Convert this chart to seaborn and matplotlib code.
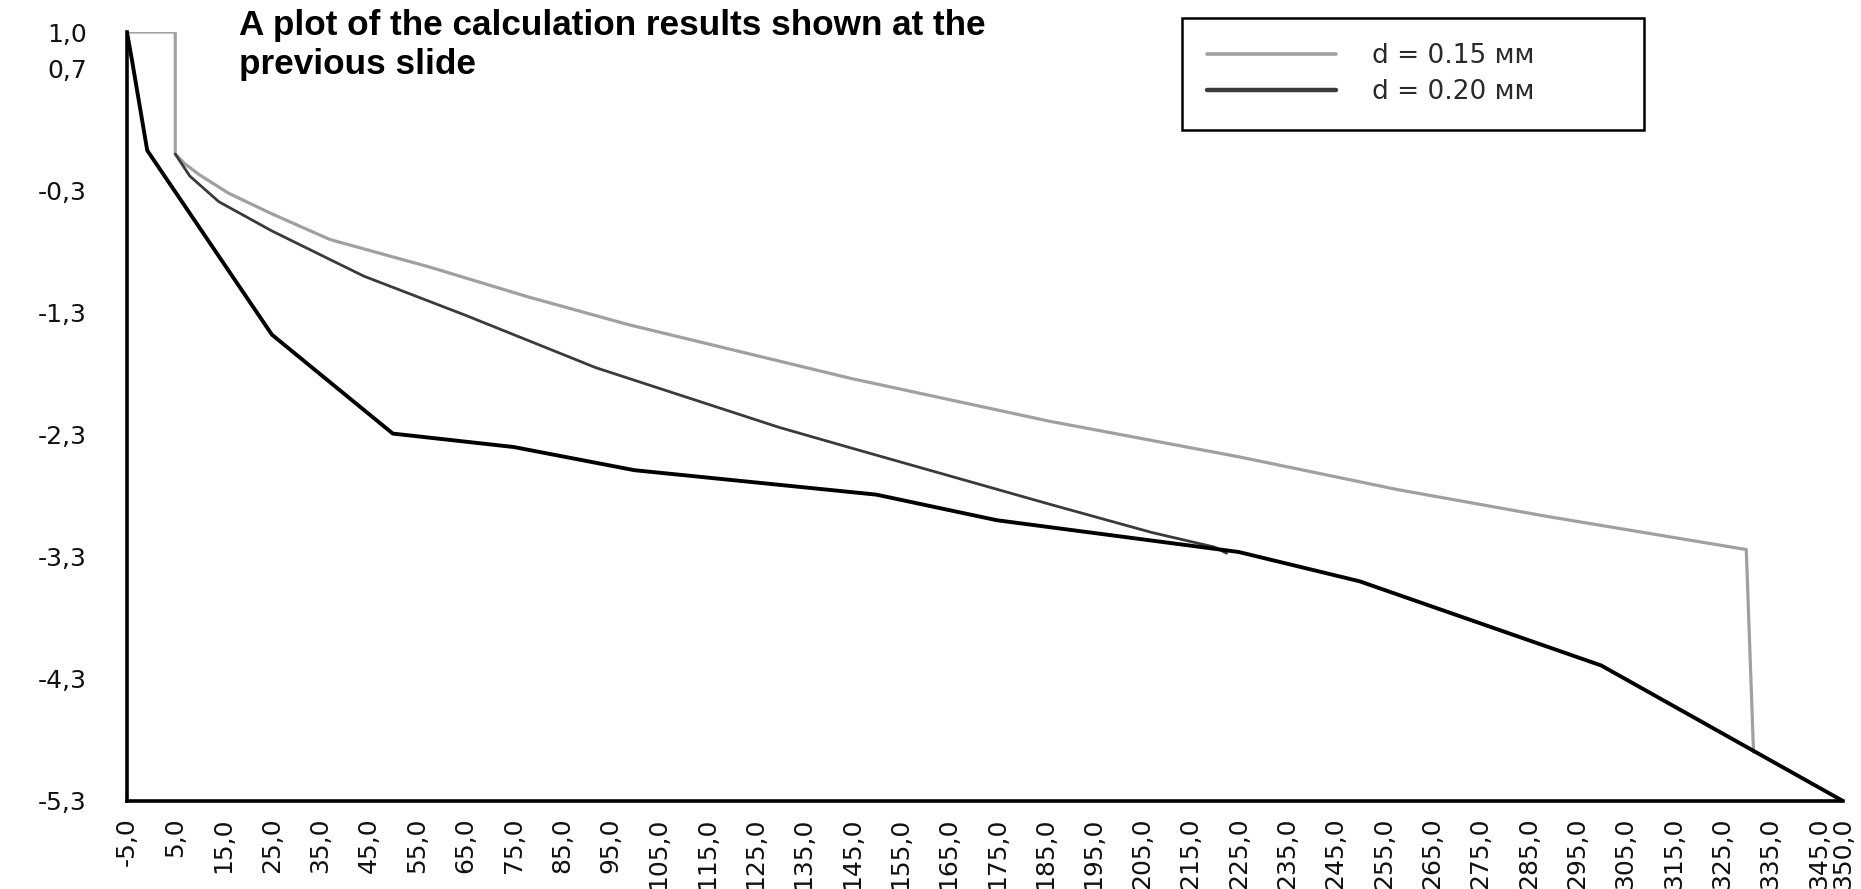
import numpy as np
import pandas as pd
import seaborn as sns
from matplotlib import pyplot as plt

# values
# d = 0.15 mm (light grey)
x_d015 = [-5, 5, 5, 7, 10, 16, 25, 37, 58, 78, 99, 145, 186, 225, 258, 289, 330, 331.5]
y_d015 = [1.0, 1.0, 0.0, -0.08, -0.17, -0.32, -0.49, -0.70, -0.93, -1.17, -1.40,
          -1.84, -2.19, -2.48, -2.75, -2.97, -3.24, -4.90]

# d = 0.20 mm (dark grey)
x_d020 = [5, 8, 14, 25, 44, 65, 92, 130, 145, 186, 207, 220, 222.5]
y_d020 = [0.0, -0.18, -0.39, -0.63, -1.00, -1.32, -1.75, -2.24, -2.41, -2.87, -3.10, -3.22, -3.27]

# third curve (thick black)
x_black = [-5, -4, -0.8, 25, 50, 75, 100, 150, 175, 225, 250, 300, 350]
y_black = [1.0, 0.78, 0.03, -1.48, -2.29, -2.40, -2.59, -2.79, -3.00, -3.26, -3.50, -4.19, -5.30]

y_ticks = [1.0, 0.7, -0.3, -1.3, -2.3, -3.3, -4.3, -5.3]
x_ticks = list(range(-5, 350, 10)) + [350]

title = "A plot of the calculation results shown at the\nprevious slide"
labels = ["d = 0.15 мм", "d = 0.20 мм"]


def fmt(v):
    return "{:.1f}".format(v).replace(".", ",")


def plot_data(filename):
    sns.set_style("white")
    plt.rcParams["font.family"] = ["DejaVu Sans"]
    plt.rcParams["text.color"] = "black"

    fig = plt.figure(figsize=(18.61, 8.89), dpi=100)
    ax = fig.add_axes([0.0682, 0.099, 0.9221, 0.865])

    sns.lineplot(x=x_d015, y=y_d015, sort=False, estimator=None, color="#a0a0a0",
                 linewidth=2.3, label=labels[0], ax=ax)
    sns.lineplot(x=x_d020, y=y_d020, sort=False, estimator=None, color="#3a3a3a",
                 linewidth=2.0, label=labels[1], ax=ax)
    sns.lineplot(x=x_black, y=y_black, sort=False, estimator=None, color="black",
                 linewidth=2.8, label="_nolegend_", ax=ax)

    ax.set_xlim(-5, 350)
    ax.set_ylim(-5.3, 1.0)
    ax.set_xticks(x_ticks)
    ax.set_xticklabels([fmt(v) for v in x_ticks], rotation=90, fontsize=18)
    ax.set_yticks(y_ticks)
    ax.set_yticklabels([fmt(v) for v in y_ticks], fontsize=18)
    ax.set_xlabel("")
    ax.set_ylabel("")

    for side in ["top", "right"]:
        ax.spines[side].set_visible(False)
    for side in ["left", "bottom"]:
        ax.spines[side].set_linewidth(2.6)
        ax.spines[side].set_color("black")
    ax.tick_params(axis="y", direction="out", length=11, width=1.5, pad=18,
                   colors="black", labelcolor="#111111")
    ax.tick_params(axis="x", direction="out", length=9, width=1.5, pad=3,
                   colors="black", labelcolor="#111111")

    leg = ax.legend(loc="upper left", bbox_to_anchor=(1182 / 1861, 1 - 18 / 889, 462 / 1861, 0),
                    bbox_transform=fig.transFigure, mode="expand", frameon=True, fancybox=False,
                    edgecolor="black", fontsize=19, handlelength=4.9, handletextpad=1.35,
                    borderpad=0.95, labelspacing=0.38, borderaxespad=0, labelcolor="#2a2a2a")
    leg.get_frame().set_linewidth(1.8)
    leg.get_frame().set_alpha(1)
    leg.get_lines()[0].set_linewidth(2.6)
    leg.get_lines()[1].set_linewidth(3.2)

    fig.text(239 / 1861, 1 - 9 / 889, title, ha="left", va="top", fontsize=25.3,
             fontweight="bold", family="Liberation Sans", linespacing=1.22, color="black")

    fig.savefig(filename, dpi=100)


plot_data("out.png")
